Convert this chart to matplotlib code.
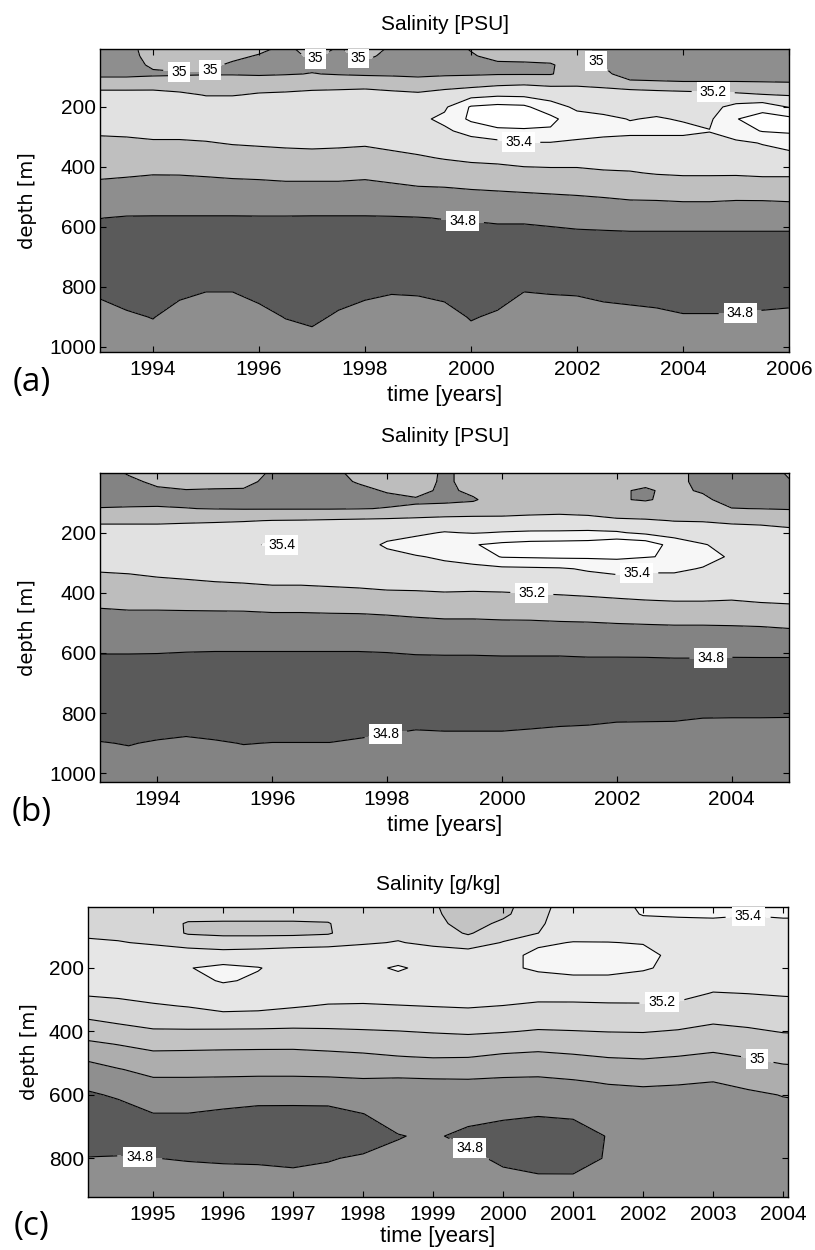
import numpy as np
import matplotlib
matplotlib.use('Agg')
import matplotlib.pyplot as plt

plt.rcParams['font.family'] = ['Liberation Sans', 'DejaVu Sans']

# ---------------- panel (a) : salinity [PSU], 1993-2006 ----------------
years_a = [1993.0, 1993.5, 1994.0, 1994.5, 1995.0, 1995.5, 1996.0, 1996.5, 1997.0,
           1997.5, 1998.0, 1998.5, 1999.0, 1999.5, 2000.0, 2000.5, 2001.0, 2001.5,
           2002.0, 2002.5, 2003.0, 2003.5, 2004.0, 2004.5, 2005.0, 2005.5, 2006.0]
depth_a = [0, 30, 60, 90, 120, 160, 200, 240, 280, 320, 370, 420, 470, 520, 570, 620, 700, 800, 900, 1020]
# one salinity profile (top -> bottom) for every entry of years_a
sal_a = [
    [34.90, 34.92, 34.95, 34.96, 35.08, 35.28, 35.33, 35.28, 35.22, 35.17, 35.10, 35.03, 34.96, 34.88, 34.802, 34.76, 34.70, 34.76, 34.86, 34.90],
    [34.96, 34.95, 34.95, 34.96, 35.08, 35.28, 35.33, 35.29, 35.23, 35.17, 35.10, 35.02, 34.95, 34.87, 34.79, 34.76, 34.70, 34.73, 34.82, 34.90],
    [35.06, 35.05, 35.02, 34.98, 35.07, 35.29, 35.33, 35.31, 35.25, 35.18, 35.09, 35.01, 34.93, 34.86, 34.79, 34.76, 34.70, 34.71, 34.795, 34.88],
    [35.07, 35.06, 35.03, 34.99, 35.05, 35.25, 35.33, 35.32, 35.25, 35.18, 35.10, 35.01, 34.94, 34.86, 34.79, 34.76, 34.70, 34.76, 34.85, 34.90],
    [35.07, 35.06, 35.03, 34.99, 35.09, 35.19, 35.33, 35.33, 35.26, 35.19, 35.11, 35.02, 34.94, 34.86, 34.79, 34.76, 34.70, 34.78, 34.90, 34.92],
    [35.05, 35.03, 34.98, 34.99, 35.09, 35.19, 35.33, 35.33, 35.28, 35.21, 35.12, 35.03, 34.95, 34.86, 34.79, 34.76, 34.70, 34.78, 34.90, 34.92],
    [35.04, 34.99, 34.96, 34.98, 35.10, 35.22, 35.33, 35.33, 35.29, 35.22, 35.13, 35.04, 34.95, 34.87, 34.79, 34.76, 34.70, 34.75, 34.84, 34.90],
    [34.98, 34.96, 34.95, 34.99, 35.11, 35.23, 35.33, 35.33, 35.30, 35.23, 35.14, 35.05, 34.96, 34.87, 34.79, 34.76, 34.70, 34.72, 34.795, 34.89],
    [35.05, 35.02, 34.97, 35.005, 35.12, 35.25, 35.33, 35.33, 35.31, 35.24, 35.14, 35.05, 34.96, 34.86, 34.79, 34.75, 34.70, 34.71, 34.77, 34.88],
    [34.995, 34.97, 34.96, 34.99, 35.11, 35.27, 35.33, 35.33, 35.30, 35.23, 35.14, 35.05, 34.96, 34.86, 34.79, 34.75, 34.70, 34.73, 34.82, 34.90],
    [35.05, 35.03, 34.97, 34.98, 35.10, 35.30, 35.33, 35.33, 35.29, 35.22, 35.13, 35.04, 34.95, 34.86, 34.79, 34.75, 34.70, 34.76, 34.85, 34.90],
    [34.99, 34.96, 34.95, 34.98, 35.07, 35.27, 35.33, 35.33, 35.32, 35.25, 35.15, 35.06, 34.97, 34.88, 34.79, 34.76, 34.70, 34.77, 34.89, 34.92],
    [34.92, 34.93, 34.95, 34.97, 35.06, 35.24, 35.33, 35.36, 35.34, 35.27, 35.18, 35.08, 34.99, 34.89, 34.795, 34.76, 34.70, 34.77, 34.87, 34.92],
    [34.97, 34.96, 34.96, 34.98, 35.08, 35.30, 35.37, 35.44, 35.37, 35.31, 35.21, 35.10, 34.995, 34.90, 34.805, 34.76, 34.70, 34.75, 34.85, 34.90],
    [35.01, 34.99, 34.97, 34.98, 35.12, 35.33, 35.62, 35.64, 35.46, 35.33, 35.23, 35.13, 35.01, 34.91, 34.81, 34.765, 34.70, 34.71, 34.79, 34.88],
    [35.04, 35.03, 34.98, 34.99, 35.15, 35.37, 35.66, 35.68, 35.57, 35.34, 35.24, 35.14, 35.02, 34.92, 34.82, 34.77, 34.70, 34.73, 34.82, 34.90],
    [35.05, 35.04, 34.98, 34.99, 35.17, 35.36, 35.64, 35.68, 35.58, 35.39, 35.27, 35.15, 35.03, 34.93, 34.82, 34.77, 34.70, 34.78, 34.90, 34.92],
    [35.05, 35.04, 34.99, 34.99, 35.15, 35.33, 35.47, 35.66, 35.57, 35.39, 35.27, 35.16, 35.04, 34.94, 34.84, 34.77, 34.70, 34.77, 34.89, 34.92],
    [35.04, 35.04, 35.05, 35.08, 35.16, 35.31, 35.37, 35.46, 35.45, 35.38, 35.27, 35.16, 35.05, 34.95, 34.86, 34.78, 34.70, 34.77, 34.87, 34.92],
    [34.96, 34.97, 34.99, 35.04, 35.14, 35.29, 35.35, 35.43, 35.43, 35.37, 35.28, 35.18, 35.07, 34.96, 34.87, 34.785, 34.70, 34.75, 34.85, 34.90],
    [34.90, 34.91, 34.91, 34.92, 35.04, 35.33, 35.36, 35.395, 35.43, 35.35, 35.27, 35.19, 35.08, 34.98, 34.88, 34.79, 34.70, 34.74, 34.84, 34.90],
    [34.90, 34.90, 34.91, 34.91, 35.03, 35.30, 35.36, 35.41, 35.43, 35.35, 35.28, 35.21, 35.10, 34.98, 34.88, 34.79, 34.70, 34.73, 34.83, 34.90],
    [34.89, 34.90, 34.90, 34.90, 35.02, 35.28, 35.35, 35.39, 35.43, 35.35, 35.28, 35.22, 35.11, 34.99, 34.88, 34.79, 34.70, 34.72, 34.81, 34.90],
    [34.89, 34.89, 34.90, 34.90, 35.02, 35.26, 35.34, 35.37, 35.405, 35.35, 35.28, 35.22, 35.11, 34.99, 34.88, 34.79, 34.70, 34.72, 34.81, 34.90],
    [34.89, 34.89, 34.90, 34.90, 35.02, 35.24, 35.46, 35.59, 35.52, 35.36, 35.29, 35.22, 35.10, 34.98, 34.88, 34.79, 34.70, 34.72, 34.81, 34.90],
    [34.89, 34.89, 34.89, 34.90, 35.015, 35.21, 35.51, 35.70, 35.61, 35.41, 35.32, 35.23, 35.11, 34.98, 34.88, 34.79, 34.70, 34.73, 34.82, 34.90],
    [34.89, 34.89, 34.89, 34.89, 35.01, 35.19, 35.39, 35.65, 35.63, 35.47, 35.33, 35.23, 35.11, 34.99, 34.88, 34.79, 34.70, 34.73, 34.83, 34.90],
]

# ---------------- panel (b) : salinity [PSU], 1993-2005 ----------------
years_b = [1993.0, 1993.5, 1994.0, 1994.5, 1995.0, 1995.5, 1996.0, 1996.5, 1997.0,
           1997.5, 1998.0, 1998.5, 1999.0, 1999.5, 2000.0, 2000.5, 2001.0, 2001.5,
           2002.0, 2002.5, 2003.0, 2003.5, 2004.0, 2004.5, 2005.0]
depth_b = [0, 30, 60, 90, 120, 160, 200, 240, 280, 320, 370, 420, 470, 520, 570, 620, 700, 800, 900, 1030]
sal_b = [
    [34.96, 34.95, 34.95, 34.96, 35.005, 35.16, 35.30, 35.33, 35.28, 35.22, 35.13, 35.05, 34.97, 34.91, 34.84, 34.78, 34.70, 34.72, 34.805, 34.88],
    [35.01, 34.98, 34.96, 34.96, 35.01, 35.16, 35.30, 35.33, 35.30, 35.23, 35.14, 35.06, 34.98, 34.91, 34.84, 34.78, 34.70, 34.71, 34.795, 34.87],
    [35.04, 35.02, 34.985, 34.97, 35.01, 35.16, 35.30, 35.33, 35.32, 35.25, 35.16, 35.06, 34.98, 34.91, 34.835, 34.78, 34.70, 34.72, 34.81, 34.88],
    [35.05, 35.04, 34.995, 34.97, 35.003, 35.17, 35.31, 35.33, 35.33, 35.27, 35.17, 35.07, 34.98, 34.905, 34.83, 34.775, 34.70, 34.73, 34.82, 34.88],
    [35.05, 35.04, 34.99, 34.96, 34.995, 35.18, 35.31, 35.33, 35.33, 35.29, 35.185, 35.08, 34.98, 34.905, 34.83, 34.77, 34.70, 34.72, 34.81, 34.88],
    [35.04, 35.03, 34.99, 34.96, 34.99, 35.19, 35.32, 35.35, 35.33, 35.30, 35.195, 35.09, 34.98, 34.91, 34.83, 34.77, 34.70, 34.72, 34.797, 34.88],
    [34.99, 34.97, 34.96, 34.96, 34.99, 35.205, 35.33, 35.43, 35.33, 35.32, 35.21, 35.10, 34.99, 34.91, 34.83, 34.77, 34.70, 34.72, 34.802, 34.88],
    [34.95, 34.95, 34.96, 34.96, 34.99, 35.21, 35.33, 35.34, 35.33, 35.33, 35.21, 35.10, 34.99, 34.91, 34.83, 34.77, 34.70, 34.72, 34.802, 34.88],
    [34.97, 34.96, 34.96, 34.96, 34.99, 35.22, 35.33, 35.34, 35.33, 35.33, 35.22, 35.11, 34.995, 34.91, 34.83, 34.77, 34.70, 34.72, 34.802, 34.88],
    [35.03, 35.01, 34.97, 34.96, 34.995, 35.23, 35.33, 35.34, 35.33, 35.33, 35.23, 35.12, 34.998, 34.92, 34.83, 34.77, 34.70, 34.72, 34.815, 34.88],
    [35.04, 35.03, 35.01, 34.97, 35.005, 35.24, 35.35, 35.42, 35.36, 35.34, 35.25, 35.13, 35.007, 34.92, 34.84, 34.77, 34.70, 34.73, 34.83, 34.88],
    [35.05, 35.04, 35.03, 34.99, 35.01, 35.26, 35.37, 35.47, 35.39, 35.34, 35.25, 35.14, 35.02, 34.93, 34.85, 34.78, 34.70, 34.75, 34.84, 34.88],
    [34.985, 34.985, 34.98, 34.98, 35.03, 35.28, 35.41, 35.48, 35.42, 35.36, 35.26, 35.15, 35.03, 34.94, 34.86, 34.78, 34.70, 34.74, 34.84, 34.88],
    [35.03, 35.03, 35.02, 34.99, 35.04, 35.29, 35.39, 35.59, 35.50, 35.34, 35.25, 35.15, 35.03, 34.94, 34.86, 34.78, 34.70, 34.74, 34.84, 34.88],
    [35.04, 35.04, 35.04, 35.05, 35.10, 35.26, 35.41, 35.64, 35.61, 35.36, 35.26, 35.15, 35.04, 34.94, 34.86, 34.785, 34.70, 34.74, 34.84, 34.88],
    [35.05, 35.05, 35.05, 35.06, 35.11, 35.28, 35.42, 35.67, 35.62, 35.37, 35.27, 35.16, 35.04, 34.945, 34.86, 34.785, 34.70, 34.75, 34.845, 34.88],
    [35.05, 35.05, 35.05, 35.06, 35.12, 35.29, 35.42, 35.68, 35.63, 35.38, 35.28, 35.17, 35.05, 34.95, 34.86, 34.785, 34.70, 34.76, 34.85, 34.88],
    [35.05, 35.05, 35.05, 35.06, 35.11, 35.27, 35.43, 35.69, 35.63, 35.42, 35.30, 35.18, 35.06, 34.95, 34.87, 34.79, 34.70, 34.76, 34.86, 34.88],
    [35.04, 35.03, 35.01, 35.01, 35.08, 35.23, 35.42, 35.76, 35.64, 35.45, 35.32, 35.195, 35.07, 34.96, 34.87, 34.79, 34.70, 34.77, 34.87, 34.88],
    [35.03, 35.02, 34.99, 34.99, 35.06, 35.22, 35.36, 35.72, 35.61, 35.43, 35.32, 35.21, 35.08, 34.965, 34.88, 34.79, 34.70, 34.77, 34.875, 34.88],
    [35.02, 35.02, 35.02, 35.03, 35.07, 35.195, 35.31, 35.52, 35.58, 35.43, 35.32, 35.22, 35.09, 34.97, 34.88, 34.795, 34.70, 34.77, 34.88, 34.89],
    [34.98, 34.98, 34.99, 35.02, 35.06, 35.19, 35.30, 35.41, 35.46, 35.39, 35.31, 35.22, 35.09, 34.97, 34.88, 34.795, 34.70, 34.78, 34.90, 34.90],
    [34.93, 34.94, 34.95, 34.96, 35.003, 35.17, 35.28, 35.35, 35.38, 35.35, 35.28, 35.21, 35.09, 34.975, 34.88, 34.79, 34.70, 34.78, 34.91, 34.91],
    [34.92, 34.93, 34.94, 34.96, 34.998, 35.16, 35.27, 35.33, 35.34, 35.33, 35.30, 35.23, 35.105, 34.98, 34.89, 34.79, 34.70, 34.78, 34.91, 34.91],
    [35.02, 34.99, 34.95, 34.96, 34.99, 35.12, 35.26, 35.32, 35.33, 35.33, 35.31, 35.24, 35.12, 34.996, 34.89, 34.79, 34.70, 34.78, 34.92, 34.92],
]

# ---------------- panel (c) : salinity [g/kg], 1994-2004 ----------------
years_c = [1994.0, 1994.5, 1995.0, 1995.5, 1996.0, 1996.5, 1997.0, 1997.5, 1998.0,
           1998.5, 1999.0, 1999.5, 2000.0, 2000.5, 2001.0, 2001.5, 2002.0, 2002.5,
           2003.0, 2003.5, 2004.0, 2004.5]
depth_c = [0, 30, 60, 90, 120, 160, 200, 240, 280, 320, 360, 400, 440, 480, 520, 560, 600, 660, 730, 800, 860, 930]
sal_c = [
    [35.09, 35.13, 35.15, 35.17, 35.23, 35.28, 35.31, 35.26, 35.21, 35.155, 35.099, 35.04, 34.98, 34.915, 34.86, 34.82, 34.786, 34.75, 34.765, 34.802, 34.83, 34.85],
    [35.12, 35.14, 35.16, 35.18, 35.205, 35.27, 35.31, 35.27, 35.22, 35.17, 35.12, 35.07, 35.003, 34.95, 34.895, 34.853, 34.81, 34.767, 34.76, 34.805, 34.83, 34.85],
    [35.14, 35.15, 35.16, 35.17, 35.19, 35.25, 35.30, 35.28, 35.235, 35.19, 35.14, 35.09, 35.03, 34.974, 34.926, 34.884, 34.85, 34.798, 34.74, 34.801, 34.83, 34.85],
    [35.15, 35.14, 35.09, 35.09, 35.17, 35.24, 35.39, 35.33, 35.26, 35.204, 35.148, 35.09, 35.027, 34.973, 34.926, 34.884, 34.85, 34.798, 34.74, 34.795, 34.825, 34.85],
    [35.14, 35.13, 35.09, 35.08, 35.15, 35.24, 35.46, 35.42, 35.30, 35.233, 35.159, 35.087, 35.024, 34.971, 34.925, 34.882, 34.841, 34.786, 34.74, 34.792, 34.82, 34.85],
    [35.14, 35.13, 35.09, 35.08, 35.15, 35.25, 35.41, 35.37, 35.29, 35.227, 35.155, 35.086, 35.022, 34.97, 34.925, 34.878, 34.829, 34.778, 34.74, 34.79, 34.82, 34.845],
    [35.14, 35.13, 35.09, 35.08, 35.16, 35.26, 35.32, 35.31, 35.27, 35.208, 35.146, 35.084, 35.021, 34.97, 34.925, 34.878, 34.828, 34.778, 34.74, 34.785, 34.815, 34.845],
    [35.14, 35.13, 35.095, 35.09, 35.17, 35.26, 35.32, 35.30, 35.244, 35.192, 35.141, 35.088, 35.029, 34.976, 34.928, 34.88, 34.832, 34.777, 34.75, 34.795, 34.82, 34.845],
    [35.15, 35.15, 35.16, 35.17, 35.19, 35.26, 35.33, 35.31, 35.239, 35.19, 35.142, 35.093, 35.038, 34.984, 34.932, 34.887, 34.852, 34.799, 34.76, 34.81, 34.83, 34.85],
    [35.15, 35.16, 35.17, 35.18, 35.205, 35.28, 35.43, 35.32, 35.246, 35.196, 35.147, 35.098, 35.048, 34.997, 34.939, 34.88, 34.855, 34.83, 34.797, 34.815, 34.83, 34.85],
    [35.11, 35.12, 35.13, 35.15, 35.18, 35.25, 35.32, 35.30, 35.25, 35.202, 35.154, 35.106, 35.056, 35.005, 34.942, 34.885, 34.86, 34.835, 34.81, 34.81, 34.83, 34.85],
    [35.04, 35.04, 35.06, 35.09, 35.15, 35.25, 35.31, 35.29, 35.254, 35.207, 35.16, 35.113, 35.059, 35.003, 34.937, 34.889, 34.864, 34.828, 34.779, 34.82, 34.835, 34.85],
    [35.07, 35.08, 35.12, 35.16, 35.205, 35.32, 35.36, 35.32, 35.244, 35.198, 35.151, 35.105, 35.045, 34.985, 34.926, 34.885, 34.858, 34.817, 34.758, 34.783, 34.82, 34.845],
    [35.16, 35.17, 35.18, 35.199, 35.36, 35.46, 35.43, 35.33, 35.231, 35.185, 35.14, 35.093, 35.034, 34.977, 34.923, 34.883, 34.852, 34.807, 34.746, 34.756, 34.81, 34.84],
    [35.26, 35.27, 35.28, 35.30, 35.41, 35.47, 35.45, 35.36, 35.23, 35.186, 35.142, 35.097, 35.043, 34.989, 34.937, 34.891, 34.86, 34.815, 34.753, 34.754, 34.81, 34.84],
    [35.33, 35.32, 35.31, 35.32, 35.405, 35.47, 35.45, 35.36, 35.233, 35.189, 35.146, 35.102, 35.053, 35.003, 34.954, 34.906, 34.87, 34.84, 34.805, 34.81, 34.825, 34.845],
    [35.43, 35.41, 35.35, 35.34, 35.39, 35.46, 35.42, 35.33, 35.233, 35.19, 35.147, 35.104, 35.057, 35.008, 34.961, 34.914, 34.875, 34.85, 34.83, 34.825, 34.83, 34.845],
    [35.44, 35.42, 35.36, 35.34, 35.33, 35.34, 35.35, 35.32, 35.228, 35.183, 35.139, 35.094, 35.046, 34.998, 34.952, 34.907, 34.875, 34.85, 34.83, 34.825, 34.83, 34.845],
    [35.45, 35.43, 35.36, 35.33, 35.32, 35.31, 35.28, 35.235, 35.196, 35.157, 35.118, 35.075, 35.03, 34.984, 34.941, 34.899, 34.875, 34.85, 34.835, 34.83, 34.835, 34.845],
    [35.44, 35.41, 35.35, 35.33, 35.32, 35.31, 35.28, 35.24, 35.201, 35.164, 35.127, 35.088, 35.046, 35.003, 34.962, 34.921, 34.885, 34.86, 34.845, 34.84, 34.84, 34.85],
    [35.46, 35.43, 35.36, 35.33, 35.32, 35.31, 35.29, 35.245, 35.208, 35.173, 35.139, 35.104, 35.064, 35.023, 34.983, 34.943, 34.903, 34.875, 34.86, 34.85, 34.85, 34.855],
    [35.46, 35.43, 35.36, 35.33, 35.32, 35.31, 35.29, 35.25, 35.213, 35.178, 35.143, 35.109, 35.069, 35.029, 34.99, 34.951, 34.912, 34.88, 34.86, 34.85, 34.85, 34.855],
]

# contour levels and grey shades (one shade per band, lowest first)
levels_ab = [34.8, 35.0, 35.2, 35.4, 35.6]
levels_c = [34.8, 34.9, 35.0, 35.1, 35.2, 35.4]
greys_a = ['#5a5a5a', '#8e8e8e', '#bfbfbf', '#e1e1e1', '#f7f7f7', '#ffffff']
greys_b = ['#5a5a5a', '#838383', '#bdbdbd', '#e1e1e1', '#f7f7f7', '#ffffff']
greys_c = ['#5a5a5a', '#8f8f8f', '#adadad', '#c3c3c3', '#d6d6d6', '#e6e6e6', '#f6f6f6']

# where the inline contour labels sit (year, depth)
labels_a = [(1994.49, 80), (1995.08, 80), (1997.06, 37), (1997.85, 50), (2002.34, 50),
            (2004.57, 150), (2000.9, 320), (1999.84, 580), (2005.08, 890)]
labels_b = [(1996.25, 250), (2002.35, 337), (2000.52, 405), (2003.64, 614), (1997.98, 872)]
labels_c = [(2003.5, 28), (2002.27, 310), (2003.63, 489), (1994.81, 793), (1999.5, 776)]

fig = plt.figure(figsize=(8.15, 12.5), dpi=100)


def draw_panel(rect, years, depths, sal, levels, greys, xlim, ylim, xticks, yticks,
               title, title_y, xlab_y, ylab_x, label_xy, letter, letter_y):
    ax = fig.add_axes(rect)
    S = np.array(sal).T
    bounds = [33.0] + levels + [37.0]
    ax.contourf(years, depths, S, levels=bounds, colors=greys)
    cs = ax.contour(years, depths, S, levels=levels, colors='k', linewidths=0.8)
    texts = ax.clabel(cs, fmt='%g', manual=label_xy, inline=True, inline_spacing=8, fontsize=10)
    for t in texts:
        t.set_rotation(0)
        t.set_bbox(dict(boxstyle='square,pad=0.22', facecolor='white', edgecolor='none'))

    ax.set_xlim(xlim)
    ax.set_ylim(ylim)
    ax.set_xticks(xticks)
    ax.set_yticks(yticks)
    ax.tick_params(direction='in', top=True, right=True, length=4, width=0.8, labelsize=15)
    ax.tick_params(axis='x', pad=6)
    ax.tick_params(axis='y', pad=3)
    for s in ax.spines.values():
        s.set_linewidth(1.0)

    ax.text(0.5, title_y, title, transform=ax.transAxes, ha='center', va='baseline', fontsize=15)
    ax.set_xlabel('time [years]', fontsize=16)
    ax.xaxis.set_label_coords(0.5, xlab_y)
    ax.set_ylabel('depth [m]', fontsize=14, family='DejaVu Sans')
    ax.yaxis.set_label_coords(ylab_x, 0.5)
    fig.text(0.039, letter_y, letter, family=['Open Sans', 'DejaVu Sans'], fontsize=24,
             ha='center', va='center')
    return ax


draw_panel([0.1227, 0.7184, 0.8454, 0.2424], years_a, depth_a, sal_a, levels_ab, greys_a,
           (1993, 2006), (1017, 6.7), range(1994, 2007, 2), range(200, 1001, 200),
           'Salinity [PSU]', 1.063, -0.109, -0.091, labels_a, '(a)', 0.6936)

draw_panel([0.1227, 0.3744, 0.8454, 0.2472], years_b, depth_b, sal_b, levels_ab, greys_b,
           (1993, 2005), (1029, 1.5), range(1994, 2005, 2), range(200, 1001, 200),
           'Salinity [PSU]', 1.100, -0.107, -0.091, labels_b, '(b)', 0.3496)

draw_panel([0.1080, 0.0424, 0.8589, 0.2320], years_c, depth_c, sal_c, levels_c, greys_c,
           (1994.07, 2004.07), (922, 7.7), range(1995, 2005), range(200, 801, 200),
           'Salinity [g/kg]', 1.059, -0.100, -0.070, labels_c, '(c)', 0.0184)

fig.savefig('out.png', dpi=100)
